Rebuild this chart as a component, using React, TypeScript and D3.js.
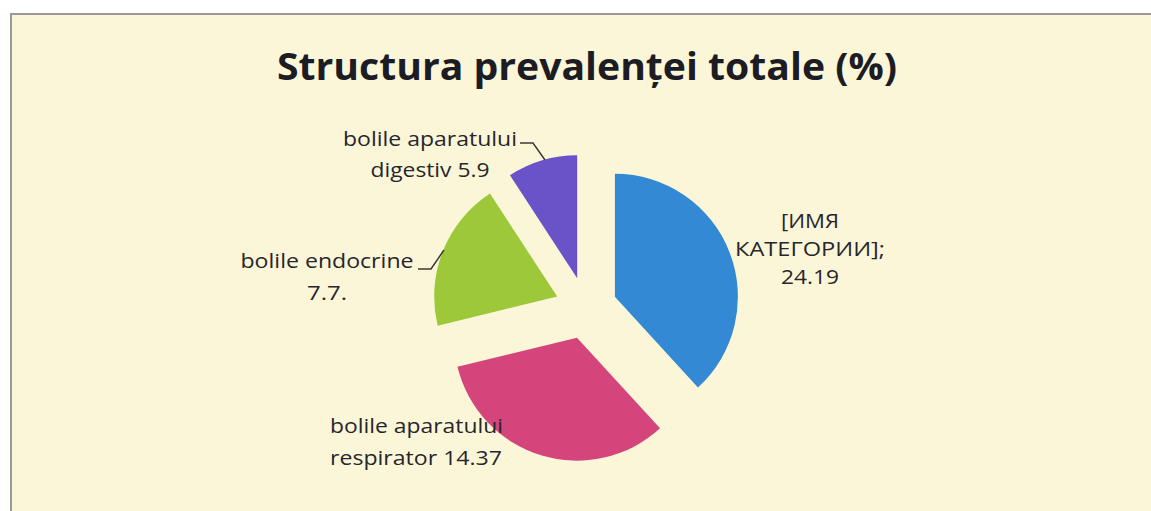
import React from "react";
import * as d3 from "d3";

// ---- data ----
const categories = [
  "[ИМЯ КАТЕГОРИИ]",
  "bolile aparatului respirator",
  "bolile endocrine",
  "bolile aparatului digestiv",
];
// slice sizes as drawn in the reference (share of the circle, %)
const sliceShares = [38.2, 33.0, 19.6, 9.2];
// values printed in the data labels
const labelValues = ["24.19", "14.37", "7.7.", "5.9"];
const colors = ["#3389d3", "#d4457c", "#9cc83a", "#6a52c8"];
const title = "Structura prevalenței totale (%)";

// label lines as printed (manually wrapped in the original)
const labelLines: string[][] = [
  ["[ИМЯ", "КАТЕГОРИИ];", labelValues[0]],
  ["bolile aparatului", "respirator " + labelValues[1]],
  ["bolile endocrine", labelValues[2]],
  ["bolile aparatului", "digestiv " + labelValues[3]],
];

// ---- layout ----
const W = 1151;
const H = 511;
const cx = 586;
const cy = 308;
const R = 123;
const explode = 31;

// manual label placement (anchor, x, baselines, widths)
const labelLayout = [
  { anchor: "middle", x: 810, ys: [228, 256, 284], widths: [58, 150, 58] },
  { anchor: "start", x: 330, ys: [433, 465], widths: [173, 172] },
  { anchor: "middle", x: 327, ys: [268, 300], widths: [173, 40] },
  { anchor: "middle", x: 430, ys: [146, 177], widths: [174, 119] },
];
const leaders: ([number, number][] | null)[] = [
  null,
  null,
  [[418, 269], [431, 269], [444, 250]],
  [[520, 143], [533, 143], [545, 160]],
];

export default function App() {
  const pie = d3
    .pie<number>()
    .sort(null)
    .startAngle(0)
    .endAngle(2 * Math.PI)
    .value((d) => d);
  const arcs = pie(sliceShares);
  const arc = d3.arc<d3.PieArcDatum<number>>().innerRadius(0).outerRadius(R);
  const line = d3.line();

  return (
    <svg
      width={W}
      height={H}
      style={{ position: "absolute", left: 0, top: 0 }}
      fontFamily="'Open Sans', Lato, sans-serif"
    >
      <rect x={0} y={0} width={W} height={H} fill="#ffffff" />
      <rect
        x={11}
        y={14}
        width={W + 20}
        height={H + 20}
        fill="#fcf6d9"
        stroke="#9a9a9a"
        strokeWidth={2}
      />
      <text
        x={277}
        y={80}
        fontSize={38}
        fontWeight="bold"
        fill="#1c1c24"
        textLength={620}
        lengthAdjust="spacingAndGlyphs"
      >
        {title}
      </text>
      <g transform={`translate(${cx},${cy})`}>
        {arcs.map((a, i) => {
          const mid = (a.startAngle + a.endAngle) / 2;
          const dx = Math.sin(mid) * explode;
          const dy = -Math.cos(mid) * explode;
          return (
            <path
              key={categories[i]}
              d={arc(a) || ""}
              fill={colors[i]}
              transform={`translate(${dx},${dy})`}
            />
          );
        })}
      </g>
      {leaders.map((pts, i) =>
        pts ? (
          <path
            key={"l" + i}
            d={line(pts) || ""}
            fill="none"
            stroke="#3a3a3a"
            strokeWidth={1.5}
          />
        ) : null
      )}
      {labelLines.map((lines, i) => {
        const lay = labelLayout[i];
        return (
          <g key={"t" + i}>
            {lines.map((s, j) => (
              <text
                key={j}
                x={lay.x}
                y={lay.ys[j]}
                textAnchor={lay.anchor as any}
                fontSize={20}
                fill="#26262c"
                textLength={lay.widths[j]}
                lengthAdjust="spacingAndGlyphs"
              >
                {s}
              </text>
            ))}
          </g>
        );
      })}
    </svg>
  );
}
